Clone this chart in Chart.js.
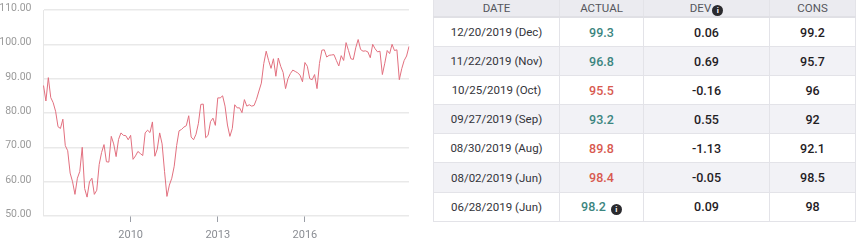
<!DOCTYPE html>
<html>
<head>
<meta charset="utf-8">
<script src="https://cdn.jsdelivr.net/npm/chart.js@4"></script>
<style>
  html, body { margin: 0; padding: 0; background: #fff; overflow: hidden; }
  body { width: 856px; height: 244px; position: relative; font-family: Roboto, sans-serif; }
  #chart { position: absolute; left: 0; top: 0; }
  table { position: absolute; left: 433px; top: 0; width: 422px; border-collapse: collapse; table-layout: fixed; }
  th, td { text-align: center; padding: 0; border: 1px solid #e3e3e8; border-top: 0; }
  th { height: 15px; padding-top: 1px; background: #ebebf0; color: #55565c; font-size: 11.5px; font-weight: 400; line-height: 14px; border-bottom: 2px solid #e0e0e5; vertical-align: top; }
  td { height: 28.1px; font-size: 11.5px; color: #33343a; }
  tr:nth-child(even) td { background: #f2f2f6; }
  td.num { font-size: 12.5px; font-weight: 500; color: #1f2024; }
  td.up { font-size: 12.5px; font-weight: 500; color: #3c8580; }
  td.down { font-size: 12.5px; font-weight: 500; color: #d8594f; }
  .info { display: inline-block; width: 11px; height: 11px; line-height: 11px; border-radius: 50%; background: #2a2a2e; color: #fff; font-size: 8px; font-weight: 700; text-align: center; vertical-align: -1px; margin-left: 1px; }
  td .info { margin-left: 5px; }
</style>
</head>
<body>
<canvas id="chart" width="430" height="244"></canvas>
<table>
  <colgroup><col style="width:126px"><col style="width:84px"><col style="width:126px"><col style="width:86px"></colgroup>
  <thead><tr id="head"></tr></thead>
  <tbody id="rows"></tbody>
</table>
<script>
/* ── Data ──────────────────────────────────────────────────────── */
const firstYear = 2007;
const values = [
  88, 83.5, 90.3, 84.5, 83, 80.5, 76, 75.5, 78.2, 70.5, 69, 62.5,
  60, 56.3, 61, 63, 70, 58, 55.5, 60, 61, 56.3, 57.5, 65,
  68.5, 70.8, 65.8, 65.7, 73.2, 71, 67.3, 72.3, 74.2, 73.5, 73.4, 72.2,
  73.5, 66.5, 67.5, 68.8, 68.2, 67.6, 74.2, 75, 74.3, 77.4, 67.4, 69.5,
  74.2, 71, 63, 55.7, 59, 61, 64.5, 70.5, 74.8, 75.2, 75.9, 76.3,
  79.2, 73, 72.2, 73.8, 77, 82.5, 82.6, 72.8, 73.5, 77.5, 78.5, 76.4,
  84.4, 84.4, 85, 82, 76.5, 73.2, 75.5, 82.4, 81.5, 81.5, 80.1, 83.9,
  82, 82.4, 82, 82.2, 84, 86.4, 88.7, 94.4, 98, 95.3, 93, 95.8,
  90.7, 96, 93.6, 91.8, 87.1, 90, 91.5, 92.5, 92.1, 91.7, 91, 89.1,
  94.7, 93.6, 90, 89.7, 91.2, 87.1, 94.4, 98.3, 98.4, 96.3, 96.8, 96.9,
  97, 95.3, 93.7, 96.7, 95.3, 100.5, 98.2, 95.8, 95.6, 99, 101.4, 98.5,
  98, 98.1, 97.8, 96.1, 100, 98.7, 97.8, 98, 91.2, 94.5, 98.2, 97.3,
  100, 98.2, 98.4, 89.7, 92.9, 95.3, 96.6, 99.4,
];
const yearTicks = [2010, 2013, 2016];

const columns = ['DATE', 'ACTUAL', 'DEV', 'CONS'];
const dates   = ['12/20/2019 (Dec)', '11/22/2019 (Nov)', '10/25/2019 (Oct)', '09/27/2019 (Sep)',
                 '08/30/2019 (Aug)', '08/02/2019 (Jun)', '06/28/2019 (Jun)'];
const actual  = ['99.3', '96.8', '95.5', '93.2', '89.8', '98.4', '98.2'];
const beat    = [true, true, false, true, false, false, true];
const dev     = ['0.06', '0.69', '-0.16', '0.55', '-1.13', '-0.05', '0.09'];
const cons    = ['99.2', '95.7', '96', '92', '92.1', '98.5', '98'];

/* ── Chart ─────────────────────────────────────────────────────── */
const labels = values.map((_, i) => i % 12 === 0 ? String(firstYear + i / 12) : '');
const isYearTick = i => yearTicks.includes(Number(labels[i]));

new Chart(document.getElementById('chart'), {
  type: 'line',
  data: {
    labels,
    datasets: [{
      data: values,
      borderColor: '#e2707f',
      borderWidth: 1,
      pointRadius: 0,
      tension: 0,
      fill: false,
    }],
  },
  options: {
    responsive: false,
    animation: false,
    devicePixelRatio: 1,
    layout: { padding: { top: 10, right: 21, left: 0, bottom: 0 } },
    plugins: { legend: { display: false }, tooltip: { enabled: false } },
    scales: {
      x: {
        offset: false,
        afterFit: s => { s.height = 28; },
        border: { display: false },
        grid: {
          drawOnChartArea: false,
          drawTicks: true,
          tickLength: 6,
          tickColor: c => isYearTick(c.index) ? '#9a9ea6' : 'transparent',
        },
        ticks: {
          autoSkip: false,
          maxRotation: 0,
          padding: 7,
          color: '#8a8d93',
          font: { family: 'Roboto', size: 11 },
          callback: (v, i) => isYearTick(i) ? labels[i] : '',
        },
      },
      y: {
        min: 50,
        max: 110,
        afterFit: s => { s.width = 43.5; s.paddingTop = 0; s.paddingBottom = 0; },
        border: { display: true, color: '#e6e6e6', width: 1 },
        grid: { color: '#e9e9e9', lineWidth: 1.4, drawTicks: false },
        ticks: {
          stepSize: 10,
          padding: 12,
          labelOffset: -1.5,
          color: '#9a9a9a',
          font: { family: 'Roboto', size: 10.5 },
          callback: v => v.toFixed(2),
        },
      },
    },
  },
});

/* ── Table ─────────────────────────────────────────────────────── */
const infoIcon = '<span class="info">i</span>';
document.getElementById('head').innerHTML = columns
  .map(c => `<th>${c}${c === 'DEV' ? infoIcon : ''}</th>`).join('');
document.getElementById('rows').innerHTML = dates.map((d, i) => `<tr>
  <td>${d}</td>
  <td class="${beat[i] ? 'up' : 'down'}">${actual[i]}${i === dates.length - 1 ? infoIcon : ''}</td>
  <td class="num">${dev[i]}</td>
  <td class="num">${cons[i]}</td>
</tr>`).join('');
</script>
</body>
</html>
